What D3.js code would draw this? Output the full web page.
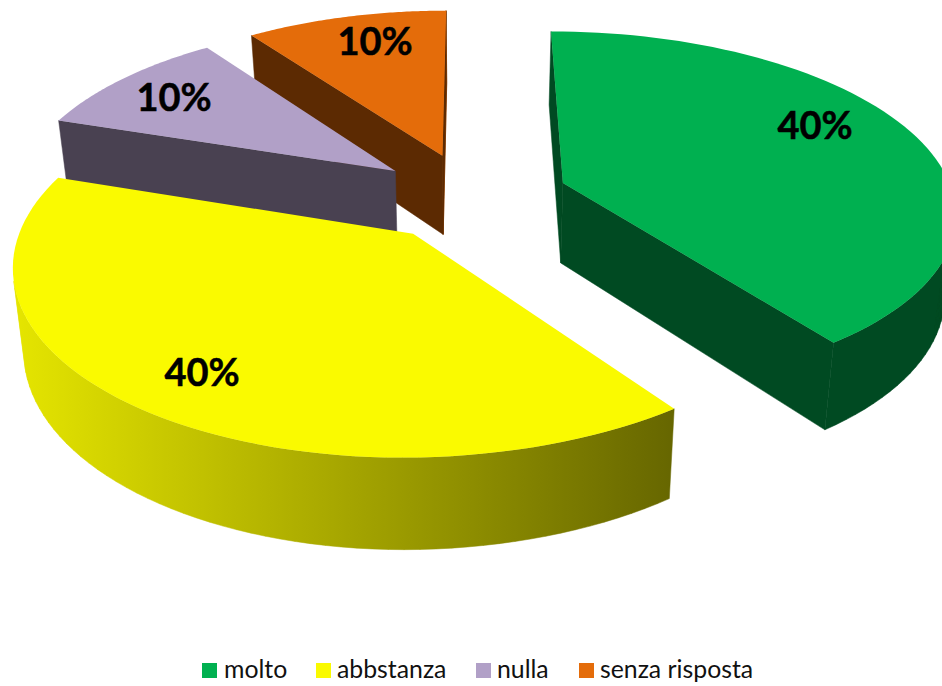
<!DOCTYPE html>
<html><head><meta charset="utf-8">
<style>html,body{margin:0;padding:0;background:#fff;overflow:hidden}svg{display:block}</style>
<script src="https://cdnjs.cloudflare.com/ajax/libs/d3/7.8.5/d3.min.js"></script>
</head><body><svg id="c" width="942" height="686"></svg>
<script>
const categories = ["molto", "abbstanza", "nulla", "senza risposta"];
const values = [40, 40, 10, 10];
const topColors = ["#00B050", "#FAFA00", "#B1A0C7", "#E46C0A"];
const wallColors = ["#004A22", "#666600", "#494151", "#5C2A02"];
const labelTexts = ["40%", "40%", "10%", "10%"];

const W = 942, H = 686;
const VX = 471, VY = 196.5, A_RIGHT = 391, A_LEFT = 382, B = 178, K = 0.15;
const EXPLODE = 0.25, DEPTH = 80.6, SHRINK = 0.976;
const labelXY = [[815,126],[202,373],[174,98],[375,42]];
const legendX = [[202,224],[316,337],[476,497],[579,600]];

const svg = d3.select("#c");
const color = d3.scaleOrdinal(categories, topColors);
const wall = d3.scaleOrdinal(categories, wallColors);
const arcs = d3.pie().sort(null).value(d => d.v)(categories.map((c,i)=>({c,v:values[i]})));
const line = d3.line();

function project(wx, wy, low) {
  const s = 1 / (1 + K * wy);
  let x = VX + (wx < 0 ? A_LEFT : A_RIGHT) * wx * s, y = VY - B * wy * s;
  if (low) {
    x = VX + (x - VX) * SHRINK;
    y = VY + (y - VY) * SHRINK + DEPTH * s;
  }
  return [x, y];
}
function geom(a) {
  const mid = (a.startAngle + a.endAngle) / 2;
  const ox = EXPLODE * Math.sin(mid), oy = EXPLODE * Math.cos(mid);
  const pt = (t, r, low) => project(ox + r * Math.sin(t), oy + r * Math.cos(t), low);
  const n = 72;
  const th = d3.range(n + 1).map(i => a.startAngle + (a.endAngle - a.startAngle) * i / n);
  return { pt, th };
}

const defs = svg.append("defs");
const grad = defs.append("linearGradient").attr("id","yw").attr("gradientUnits","userSpaceOnUse")
  .attr("x1",10).attr("x2",675).attr("y1",0).attr("y2",0);
grad.append("stop").attr("offset",0).attr("stop-color","#E6E600");
grad.append("stop").attr("offset",1).attr("stop-color","#666600");

const order = [3, 2, 0, 1];
order.forEach(i => {
  const a = arcs[i], { pt, th } = geom(a), g = svg.append("g");
  const wallFill = i === 1 ? "url(#yw)" : wall(categories[i]);
  const t0 = a.startAngle, t1 = a.endAngle;
  // the thin lit edge on the right of the last slice
  if (i === 3) {
    g.append("path").attr("fill", "#C05A08").attr("stroke", "#C05A08").attr("stroke-width", 0.8)
      .attr("d", line([pt(t1,0,false), pt(t1,1,false), pt(t1,1,true), pt(t1,0,true)]) + "Z");
  }
  // radial walls, front-facing only
  const radial = [
    [pt(t0,0,false), pt(t0,1,false), pt(t0,1,true), pt(t0,0,true)],
    [pt(t1,1,false), pt(t1,0,false), pt(t1,0,true), pt(t1,1,true)]
  ].filter(q => d3.polygonArea(q) > 0);
  radial.forEach(q => {
    g.append("path").attr("fill", wall(categories[i])).attr("stroke", wall(categories[i])).attr("stroke-width",0.5)
      .attr("d", line(q) + "Z");
  });
  // outer wall: one quad per arc step, front-facing only
  const quads = d3.pairs(th)
    .map(([p, q]) => [pt(p,1,false), pt(q,1,false), pt(q,1,true), pt(p,1,true)])
    .filter(q => d3.polygonArea(q) > 0);
  if (quads.length) {
    g.append("path").attr("fill", wallFill).attr("stroke", wallFill).attr("stroke-width",0.5)
      .attr("d", quads.map(q => line(q) + "Z").join(""));
  }
  // top
  const upper = th.map(t => pt(t,1,false));
  g.append("path").attr("fill", color(categories[i]))
    .attr("d", line([pt(t0,0,false)].concat(upper)) + "Z");
});

arcs.forEach((a,i) => {
  svg.append("text").attr("x",labelXY[i][0]).attr("y",labelXY[i][1]).attr("dy","0.35em")
    .attr("text-anchor","middle").attr("font-family","Lato, 'Open Sans', sans-serif")
    .attr("font-weight",700).attr("font-size",38).attr("fill","#000")
    .attr("stroke","#000").attr("stroke-width",0.5).text(labelTexts[i]);
});

categories.forEach((c,i) => {
  svg.append("rect").attr("x",legendX[i][0]).attr("y",663).attr("width",15).attr("height",15).attr("fill",color(c));
  svg.append("text").attr("x",legendX[i][1]).attr("y",678).attr("font-family","Lato, sans-serif")
    .attr("font-size",24.8).attr("fill","#111").text(c);
});
</script></body></html>
